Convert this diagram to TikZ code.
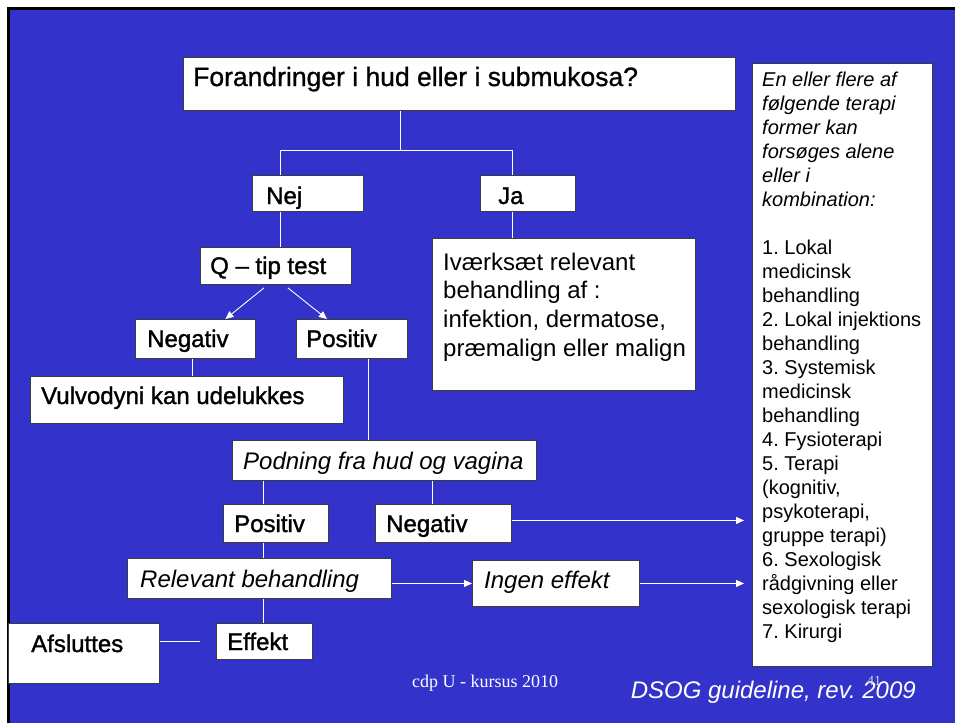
\documentclass[tikz,border=0pt]{standalone}
\usepackage{fontspec}
\setmainfont{Liberation Sans}
\newfontfamily\heavyfont{Liberation Sans}[FakeBold=1.4]
\newfontfamily\midfont{Liberation Sans}[FakeBold=0.9]
\newfontfamily\seriffont{Liberation Serif}
\usetikzlibrary{arrows.meta}
\definecolor{slideblue}{RGB}{51,51,204}
\definecolor{boxline}{RGB}{60,60,60}
\begin{document}
\frenchspacing
\begin{tikzpicture}[x=1pt,y=-1pt,
  box/.style={draw=boxline, line width=0.9pt, fill=white, anchor=north west, inner sep=0pt},
  txt/.style={anchor=base west, inner sep=0pt, font=\heavyfont\fontsize{24}{28.8}\selectfont},
  itxt/.style={anchor=base west, inner sep=0pt, font=\fontsize{24}{28.8}\selectfont\itshape},
  conn/.style={draw=white, line width=0.9pt},
  arr/.style={conn, -{Triangle[length=8pt,width=7pt]}},
]
\useasboundingbox (0,0) rectangle (955,723);
\fill[white] (0,0) rectangle (955,723);
\fill[slideblue] (8,8) rectangle (955,723);
\draw[black, line width=2.5pt] (8.5,723) -- (8.5,8.5) -- (955,8.5);

% boxes
\node[box, minimum width=552pt, minimum height=53pt] (top) at (183,57) {};
\node[box, minimum width=180pt, minimum height=603pt] (rb) at (752,63) {};
\node[box, minimum width=111pt, minimum height=36pt] (nej) at (252,175) {};
\node[box, minimum width=95pt, minimum height=36pt] (ja) at (480,175) {};
\node[box, minimum width=263pt, minimum height=152pt] (ivr) at (432,238) {};
\node[box, minimum width=151pt, minimum height=37pt] (q) at (200,247) {};
\node[box, minimum width=120pt, minimum height=39pt] (neg1) at (135,319) {};
\node[box, minimum width=111pt, minimum height=39pt] (pos1) at (296,319) {};
\node[box, minimum width=313pt, minimum height=47pt] (vul) at (30,376) {};
\node[box, minimum width=304pt, minimum height=40pt] (pod) at (232,440) {};
\node[box, minimum width=105pt, minimum height=38pt] (pos2) at (223,504) {};
\node[box, minimum width=136pt, minimum height=38pt] (neg2) at (375,504) {};
\node[box, minimum width=264pt, minimum height=40pt] (rel) at (127,558) {};
\node[box, minimum width=167pt, minimum height=46pt] (ing) at (472,560) {};
\node[box, minimum width=96pt, minimum height=36pt] (eff) at (216,623) {};
\node[box, minimum width=151pt, minimum height=60pt] (afs) at (8,623) {};

% texts
\node[txt, font=\midfont\fontsize{26.5}{30}\selectfont] (topT) at (193,86) {Forandringer i hud eller i submukosa?};
\node[txt] (nejT) at (266,204) {Nej};
\node[txt] (jaT) at (498,204) {Ja};
\node[txt] (qT) at (210,274) {Q – tip test};
\node[txt] (neg1T) at (147,347) {Negativ};
\node[txt] (pos1T) at (306,347) {Positiv};
\node[txt] (vulT) at (41,404) {Vulvodyni kan udelukkes};
\node[itxt] (podT) at (243,469) {Podning fra hud og vagina};
\node[txt] (pos2T) at (234,532) {Positiv};
\node[txt] (neg2T) at (386,532) {Negativ};
\node[itxt] (relT) at (140,587) {Relevant behandling};
\node[itxt] (ingT) at (484,588) {Ingen effekt};
\node[txt] (effT) at (227,650) {Effekt};
\node[txt] (afsT) at (31,652) {Afsluttes};
\node[txt, font=\fontsize{24}{28.8}\selectfont] (ivrT) at (443,270) {\parbox[t]{245pt}{\fontsize{24}{28.8}\selectfont\raggedright
  Iværksæt relevant\\behandling af :\\infektion, dermatose,\\præmalign eller malign}};
\node[txt, font=\fontsize{20}{24}\selectfont] (rbT) at (762,86) {\parbox[t]{168pt}{\fontsize{20}{24}\selectfont\raggedright
  {\itshape En eller flere af\\følgende terapi\\former kan\\forsøges alene\\eller i\\kombination:}\\[24pt]
  1. Lokal\\medicinsk\\behandling\\2. Lokal injektions\\behandling\\3. Systemisk\\medicinsk\\behandling\\4. Fysioterapi\\5. Terapi\\(kognitiv,\\psykoterapi,\\gruppe terapi)\\6. Sexologisk\\rådgivning eller\\sexologisk terapi\\7. Kirurgi}};

% footer
\node[anchor=base west, inner sep=0pt, text=white, font=\seriffont\fontsize{18}{20}\selectfont] (foot) at (412,687) {cdp U - kursus 2010};
\node[anchor=base east, inner sep=0pt, text=white, font=\fontsize{24}{28}\selectfont\itshape] (dsog) at (916,698) {DSOG guideline, rev. 2009};
\node[anchor=base west, inner sep=0pt, text=white!85!black, font=\seriffont\fontsize{14}{16}\selectfont] (pg) at (867,685) {41};

% connectors
\coordinate (c0) at (400,150);
\coordinate (cNej) at (280,150);
\coordinate (cJa) at (512,150);
\draw[conn] (top.south -| c0) -- (c0);
\draw[conn] (nej.north -| cNej) -- (cNej) -- (cJa) -- (ja.north -| cJa);
\draw[conn] (ja.south -| cJa) -- (ivr.north -| cJa);
\draw[conn] (nej.south -| cNej) -- (q.north -| cNej);
\draw[arr] ([xshift=-12pt,yshift=-3pt]q.south) -- ([xshift=30pt]neg1.north);
\draw[arr] ([xshift=12pt,yshift=-3pt]q.south) -- ([xshift=-25pt]pos1.north);
\coordinate (cVul) at (192,0);
\coordinate (cPos) at (368,0);
\coordinate (cL) at (263,0);
\coordinate (cR) at (432,0);
\draw[conn] (neg1.south -| cVul) -- (vul.north -| cVul);
\draw[conn] (pos1.south -| cPos) -- (pod.north -| cPos);
\draw[conn] (pod.south -| cL) -- (pos2.north -| cL);
\draw[conn] (pod.south -| cR) -- (neg2.north -| cR);
\draw[conn] (pos2.south -| cL) -- (rel.north -| cL);
\draw[conn] (rel.south -| cL) -- (eff.north -| cL);
\draw[arr, shorten >=8pt] ([yshift=3pt]neg2.east) -- ([yshift=3pt]neg2.east -| rb.west);
\draw[arr] (rel.east |- ing.west) -- (ing.west);
\draw[arr, shorten >=8pt] (ing.east) -- (ing.east -| rb.west);
\draw[conn] (afs.east |- eff.west) -- ([xshift=-16pt]eff.west);
\end{tikzpicture}
\end{document}
